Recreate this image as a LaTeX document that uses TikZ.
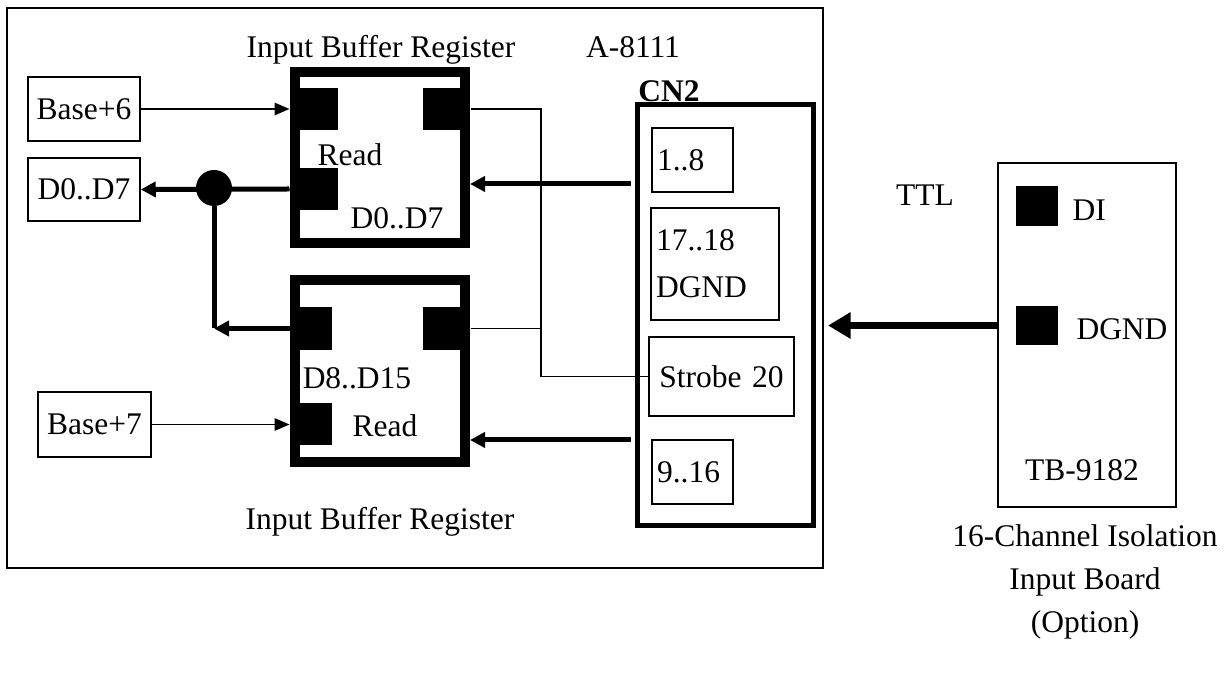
\documentclass[tikz,border=0pt]{standalone}
\usepackage{fontspec}
\setmainfont{Liberation Serif}
\usetikzlibrary{arrows.meta}
\tikzset{
  thinbox/.style={draw, line width=0.6pt, inner sep=0pt},
  regbox/.style={draw, line width=4pt, inner sep=0pt, minimum width=68pt},
  pad/.style={fill=black, inner sep=0pt},
  pinbox/.style={draw, line width=0.6pt, inner xsep=2pt, inner ysep=0pt, align=left},
  lbl/.style={inner sep=0pt},
  sig/.style={line width=0.6pt, -{Triangle[length=6pt,width=5pt]}},
  bus/.style={line width=2pt, -{Triangle[length=6pt,width=6pt]}},
  wire/.style={line width=0.5pt},
}
\begin{document}
\begin{tikzpicture}[x=0.4pt, y=-0.4pt, every node/.append style={font=\fontsize{12.6}{15}\selectfont}]
        \useasboundingbox (0,0) rectangle (1227,684);

        \node[thinbox, minimum width=326.4pt, minimum height=224pt] at (415,288) (card) {};
        \node[lbl] at (633,47) (cardname) {A-8111};
        \node[lbl] at (381,50) (toptitle) {Input Buffer Register};
        \node[lbl] at (380,522) (bottitle) {Input Buffer Register};

        \node[regbox, minimum height=68.4pt] at (380,157.5) (topreg) {};
        \node[pad, minimum width=19.2pt, minimum height=16.8pt] at (314,109) (tr1) {};
        \node[pad, minimum width=19.2pt, minimum height=16.8pt] at (314,189) (tr2) {};
        \node[pad, minimum width=18.8pt, minimum height=16.8pt] at (446.5,109) (tr3) {};
        \node[lbl] at (350,155) (rd1) {Read};
        \node[lbl] at (397,218) (lo) {D0..D7};

        \node[regbox, minimum height=72.8pt] at (380,371) (botreg) {};
        \node[pad, minimum width=16.8pt, minimum height=17.2pt] at (311,328.5) (br1) {};
        \node[pad, minimum width=16.8pt, minimum height=16.8pt] at (311,424) (br2) {};
        \node[pad, minimum width=18.8pt, minimum height=17.2pt] at (446.5,328.5) (br3) {};
        \node[lbl] at (357,378) (hi) {D8..D15};
        \node[lbl] at (385,426) (rd2) {Read};

        \node[thinbox, minimum width=44.8pt, minimum height=25.6pt] at (84,109) (base6) {Base+6};
        \node[thinbox, minimum width=44.8pt, minimum height=25.2pt] at (84,189.5) (d07) {D0..D7};
        \node[thinbox, minimum width=45.2pt, minimum height=26pt] at (94.5,424.5) (base7) {Base+7};

        \node[draw, line width=2pt, inner sep=0pt, minimum width=70.4pt, minimum height=168.4pt] at (725,315.5) (cn2) {};
        \node[lbl, font=\fontsize{12.6}{15}\selectfont\bfseries] at (669,91) (cn2name) {CN2};
        \node[pinbox, text width=28.4pt, minimum height=25.6pt] at (692.5,160) (p18) {1..8};
        \node[pinbox, text width=47.2pt, minimum height=44.8pt] at (715,264) (pgnd) {17..18\\[3.8pt]DGND};
        \node[pinbox, align=center, text width=54pt, minimum height=31.6pt] at (721.5,376.5) (strobe) {Strobe 20};
        \node[pinbox, text width=28.4pt, minimum height=25.6pt] at (692.5,472) (p916) {9..16};

        \node[thinbox, minimum width=71.2pt, minimum height=137.6pt] at (1087,335) (tb) {};
        \node[pad, minimum width=16.8pt, minimum height=16pt] at (1037,206) (dipad) {};
        \node[pad, minimum width=16.8pt, minimum height=15.6pt] at (1037,325.5) (gndpad) {};
        \node[lbl, anchor=west] at (1072,210) (di) {DI};
        \node[lbl, anchor=west] at (1076,329) (dgnd) {DGND};
        \node[lbl] at (1082,470) (tbname) {TB-9182};
        \node[lbl] at (925,195) (ttl) {TTL};
        \node[lbl, align=center] at (1085,582) (tbdesc) {16-Channel Isolation\\[2.2pt]Input Board\\[2.2pt](Option)};

        \draw[sig] (base6.east) -- (tr1.west);
        \draw[sig] (base7.east) -- (base7.east -| br2.west);
        \draw[bus] (tr2.west) -- (d07.east);
        \node[circle, fill=black, inner sep=0pt, minimum size=14.4pt] at (214,188) (junc) {};
        \coordinate (corner) at (junc |- br1);
        \draw[line width=2pt] (corner) -- (junc);
        \draw[bus] (br1.west) -- (corner);

        \coordinate (tap) at (541,0);
        \draw[wire] (tr3.east) -- (tr3.east -| tap) -- (tap |- strobe) -- (strobe.west);
        \draw[wire] (br3.east) -- (br3.east -| tap);

        \coordinate (in1) at (631,184);
        \coordinate (in2) at (631,440);
        \draw[bus] (in1) -- (in1 -| topreg.east);
        \draw[bus] (in2) -- (in2 -| botreg.east);
        \draw[line width=2.8pt, -{Triangle[length=9pt,width=10pt]}, shorten >=5pt] (gndpad -| tb.west) -- (gndpad -| cn2.east);
\end{tikzpicture}
\end{document}
